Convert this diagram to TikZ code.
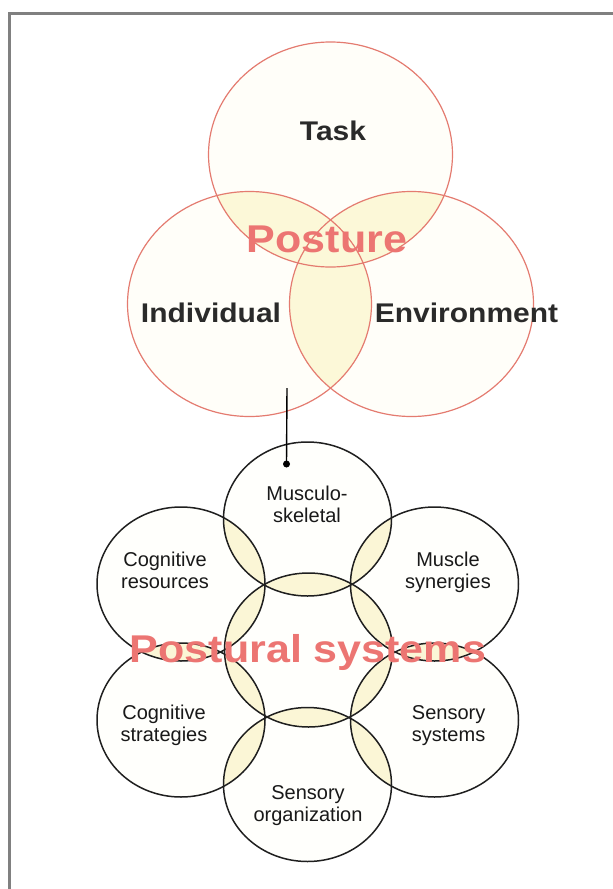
\documentclass[tikz,border=0pt]{standalone}
\usepackage{fontspec}
\setmainfont{Liberation Sans}
\usepackage{xcolor}
\usepackage{tikz}

\definecolor{framegray}{HTML}{808080}
\definecolor{vennline}{HTML}{E47B70}
\definecolor{posturered}{HTML}{EC7572}
\definecolor{circfill}{HTML}{FFFEF9}
\definecolor{flowerfill}{HTML}{FFFFFC}
\definecolor{pairfill}{HTML}{FCF8D8}
\definecolor{triplefill}{HTML}{F7C9A6}
\definecolor{lensfill}{HTML}{FBF6D6}
\definecolor{labelgray}{HTML}{2A2A2A}

\tikzset{
    vennlabel/.style={font=\fontsize{30}{34}\selectfont\bfseries, text=labelgray, anchor=base, inner sep=0pt, yscale=0.9},
    bigtitle/.style={font=\fontsize{43}{48}\selectfont\bfseries, text=posturered, anchor=base, inner sep=0pt, yscale=0.9},
    sysname/.style={font=\fontsize{20}{22}\selectfont, text=black!90, align=center, inner sep=0pt},
    vennedge/.style={draw=vennline, line width=1.2pt},
    floweredge/.style={draw=black!88, line width=1.5pt},
    linkdot/.style={circle, fill=black, inner sep=0pt, minimum size=7pt},
}

\begin{document}
\begin{tikzpicture}[x=1pt, y=-1pt]
    \useasboundingbox (0,0) rectangle (613,889);
    % 外框
    \draw[framegray, line width=3pt] (9.5,889) -- (9.5,13.5) -- (613,13.5);

    % 上面的三个圆
    \coordinate (taskc) at (330.5,154.5);
    \coordinate (indc) at (249.5,304);
    \coordinate (envc) at (411.5,304);

    \begin{scope}[x radius=122pt, y radius=112.5pt]
        \foreach \c in {taskc,indc,envc}
            \fill[circfill] (\c) ellipse;
        \begin{scope}
            \clip (taskc) ellipse;
            \fill[pairfill] (indc) ellipse;
            \fill[pairfill] (envc) ellipse;
            \clip (indc) ellipse;
            \fill[triplefill] (envc) ellipse;
        \end{scope}
        \begin{scope}
            \clip (indc) ellipse;
            \fill[pairfill] (envc) ellipse;
        \end{scope}
        \foreach \c in {taskc,indc,envc}
            \draw[vennedge] (\c) ellipse;
    \end{scope}

    % 下面的七个圆
    \coordinate (midc) at (308.5,650);
    \coordinate (musc) at (307.5,519);
    \coordinate (sync) at (434.5,584);
    \coordinate (senc) at (434.5,720);
    \coordinate (orgc) at (307.5,784.5);
    \coordinate (strc) at (181,720);
    \coordinate (resc) at (181,584);

    \begin{scope}[x radius=84pt, y radius=77pt]
        \foreach \c in {midc,musc,sync,senc,orgc,strc,resc}
            \fill[flowerfill] (\c) ellipse;
        \foreach \a/\b in {midc/musc, midc/sync, midc/senc, midc/orgc, midc/strc, midc/resc,
                          musc/sync, sync/senc, senc/orgc, orgc/strc, strc/resc, resc/musc} {
            \begin{scope}
                \clip (\a) ellipse;
                \fill[lensfill] (\b) ellipse;
            \end{scope}
        }
        \foreach \c in {midc,musc,sync,senc,orgc,strc,resc}
            \draw[floweredge] (\c) ellipse;
    \end{scope}

    % 连线
    \coordinate (linktop) at (287,388);
    \node[linkdot] (musdot) at (286.5,464) {};
    \draw[line width=1.4pt] (linktop) -- (musdot.center);

    % 文字
    \node[vennlabel] (task) at (333,140) {Task};
    \node[vennlabel] (individual) at (211,322) {Individual};
    \node[vennlabel] (environment) at (466.5,322) {Environment};
    \node[bigtitle] (posture) at (327,252) {Posture};

    \node[sysname] (musculo) at (307,504.7) {Musculo-\\skeletal};
    \node[sysname] (resources) at (165,570.2) {Cognitive\\resources};
    \node[sysname] (synergies) at (448,572.3) {Muscle\\synergies};
    \node[sysname] (strategies) at (164,725.8) {Cognitive\\strategies};
    \node[sysname] (sensory) at (448.6,725.8) {Sensory\\systems};
    \node[sysname] (organization) at (308,805.3) {Sensory\\organization};
    \node[bigtitle] (postural) at (308,662) {Postural systems};
\end{tikzpicture}
\end{document}
